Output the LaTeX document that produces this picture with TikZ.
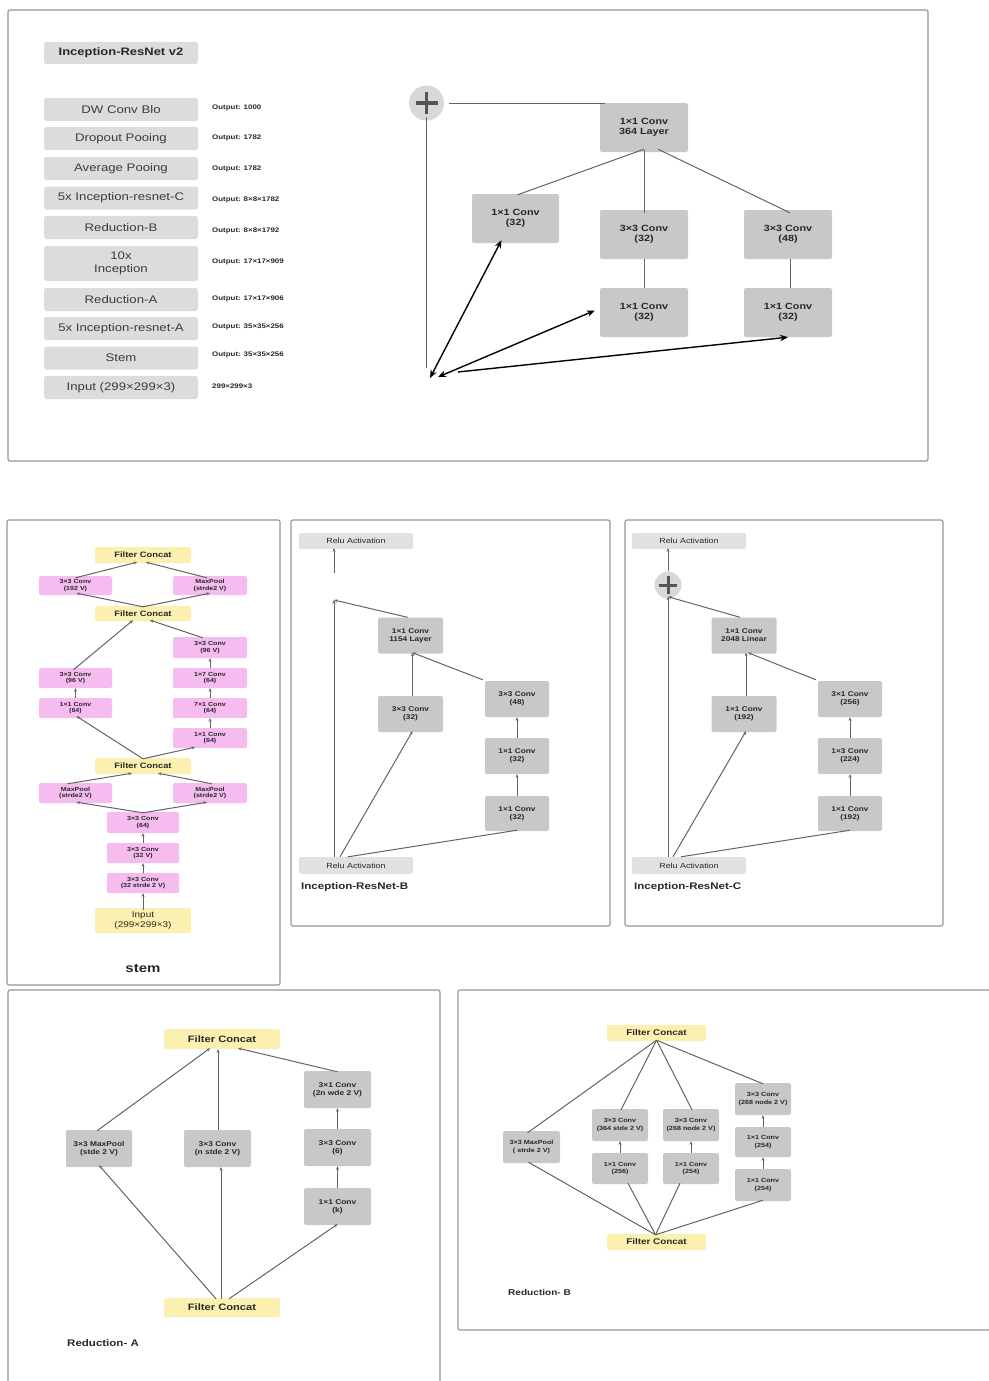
\documentclass[tikz,border=0pt]{standalone}
\usepackage{fontspec}
\setmainfont[FakeStretch=1.2]{Liberation Sans}
\usetikzlibrary{arrows.meta}

\definecolor{listfill}{RGB}{220,220,220}
\definecolor{boxfill}{RGB}{200,200,200}
\definecolor{relufill}{RGB}{225,225,225}
\definecolor{concatfill}{RGB}{251,240,176}
\definecolor{pinkfill}{RGB}{246,188,240}
\definecolor{panelline}{RGB}{150,150,150}
\definecolor{wirecol}{RGB}{100,100,100}
\definecolor{ink}{RGB}{40,40,40}
\definecolor{listink}{RGB}{60,60,60}
\definecolor{plusfill}{RGB}{216,216,216}
\definecolor{plusink}{RGB}{85,85,85}

\tikzset{
  panel/.style={draw=panelline, line width=1.1pt, rounded corners=2pt},
  listbox/.style={fill=listfill, rounded corners=2.5pt, minimum width=154, minimum height=23,
    inner sep=0, align=center, text=listink, font=\fontsize{11}{12.5}\selectfont},
  outlabel/.style={anchor=west, inner sep=0, text=ink, font=\fontsize{6.6}{8}\selectfont\bfseries},
  gbox/.style={fill=boxfill, rounded corners=2pt, inner sep=0, align=center, text=ink},
  pbox/.style={fill=pinkfill, rounded corners=1.5pt, inner sep=0, align=center, text=ink,
    minimum width=73, minimum height=20, font=\fontsize{5.9}{6.7}\selectfont\bfseries},
  ybox/.style={fill=concatfill, rounded corners=1.5pt, inner sep=0, align=center, text=ink},
  relu/.style={fill=relufill, rounded corners=2pt, inner sep=0, minimum width=114, minimum height=16,
    text=ink, font=\fontsize{7.4}{8}\selectfont},
  plus/.style={circle, fill=plusfill, inner sep=0},
  title/.style={anchor=west, inner sep=0, text=ink, font=\fontsize{9.6}{11}\selectfont\bfseries},
  wire/.style={draw=wirecol, line width=1pt},
  arr/.style={wire, -{Stealth[length=3.5pt,width=3pt]}},
  bigarr/.style={draw=black, line width=1.4pt, {Stealth[length=8pt,width=6.5pt]}-{Stealth[length=8pt,width=6.5pt]}},
  bigarrone/.style={draw=black, line width=1.4pt, -{Stealth[length=8pt,width=6.5pt]}},
  topbox/.style={gbox, minimum width=88, minimum height=49, font=\fontsize{9}{10.5}\selectfont\bfseries},
  midbox/.style={gbox, minimum width=65, minimum height=36, font=\fontsize{6.9}{8.2}\selectfont\bfseries},
  rabox/.style={gbox, minimum width=67, minimum height=37, font=\fontsize{7}{8.4}\selectfont\bfseries},
  rbbox/.style={gbox, minimum width=56, minimum height=32, font=\fontsize{6}{7.2}\selectfont\bfseries},
}

\begin{document}
\begin{tikzpicture}[x=1pt, y=-1pt]
\useasboundingbox (0,0) rectangle (988,1381);
\fill[white] (0,0) rectangle (988,1381);

% ---------- panel frames ----------
\draw[panel] (8,10) rectangle (928,461);
\draw[panel] (7,520) rectangle (280,985);
\draw[panel] (291,520) rectangle (610,926);
\draw[panel] (625,520) rectangle (943,926);
\draw[panel] (8,1385) -- (8,990) -- (440,990) -- (440,1385);
\draw[panel] (992,990) -- (458,990) -- (458,1330) -- (992,1330);

% ---------- overall network ----------
\node[listbox, minimum height=22, text=ink, font=\fontsize{10.8}{12}\selectfont\bfseries] (ttl) at (121,53) {Inception-ResNet v2};
\node[listbox] (l1) at (121,109.5) {DW Conv Blo};
\node[listbox] (l2) at (121,138.5) {Dropout Pooing};
\node[listbox] (l3) at (121,168.5) {Average Pooing};
\node[listbox] (l4) at (121,198) {5x Inception-resnet-C};
\node[listbox] (l5) at (121,227.5) {Reduction-B};
\node[listbox, minimum height=35, font=\fontsize{11}{12.5}\selectfont] (l6) at (121,263.5) {10x\\Inception};
\node[listbox] (l7) at (121,299.5) {Reduction-A};
\node[listbox] (l8) at (121,328.5) {5x Inception-resnet-A};
\node[listbox] (l9) at (121,358) {Stem};
\node[listbox] (l10) at (121,387.5) {Input (299×299×3)};

\node[outlabel] (o1) at (212,107.5) {Output: 1000};
\node[outlabel] (o2) at (212,138) {Output: 1782};
\node[outlabel] (o3) at (212,168.5) {Output: 1782};
\node[outlabel] (o4) at (212,199.5) {Output: 8×8×1782};
\node[outlabel] (o5) at (212,231) {Output: 8×8×1792};
\node[outlabel] (o6) at (212,262) {Output: 17×17×909};
\node[outlabel] (o7) at (212,299) {Output: 17×17×906};
\node[outlabel] (o8) at (212,327) {Output: 35×35×256};
\node[outlabel] (o9) at (212,355) {Output: 35×35×256};
\node[outlabel] (o10) at (212,386) {299×299×3};

% ---------- residual block (top right) ----------
\node[plus, minimum size=35] (pA) at (426.5,103) {};
\draw[plusink, line width=3.6pt] ([xshift=-11]pA.center) -- ([xshift=11]pA.center);
\draw[plusink, line width=3.6pt] ([yshift=-11]pA.center) -- ([yshift=11]pA.center);

\node[topbox] (c364) at (644,127.5) {1×1 Conv\\364 Layer};
\node[topbox, minimum width=87] (cA) at (515.5,218.5) {1×1 Conv\\(32)};
\node[topbox] (cB) at (644,234.5) {3×3 Conv\\(32)};
\node[topbox] (cC) at (788,234.5) {3×3 Conv\\(48)};
\node[topbox] (cD) at (644,312.5) {1×1 Conv\\(32)};
\node[topbox] (cE) at (788,312.5) {1×1 Conv\\(32)};

\draw[wire] ([xshift=5]pA.east) -- ([xshift=5]pA.east -| c364.west);
\draw[wire] ([yshift=3]c364.south) -- ([xshift=2,yshift=-1]cA.north);
\draw[wire] ([yshift=2]c364.south) -- ([yshift=-3]cB.north);
\draw[wire] ([xshift=14,yshift=3]c364.south) -- ([xshift=2,yshift=-3]cC.north);
\draw[wire] (cB.south) -- (cD.north);
\draw[wire] ([xshift=2]cC.south) -- ([xshift=2]cE.north);

\coordinate (hubL) at (426.5,368);
\coordinate (h1) at (430,378);
\coordinate (h2) at (438,377);
\coordinate (h3) at (458,372);
\draw[wire] ([yshift=4]pA.south) -- (hubL);
\draw[bigarr] (h1) -- ([xshift=-14,yshift=3]cA.south);
\draw[bigarr] (h2) -- ([xshift=-5,yshift=2]cD.west);
\draw[bigarrone] (h3) -- (cE.south);

% ---------- stem ----------
\node[ybox, minimum width=96, minimum height=16, font=\fontsize{7.8}{9}\selectfont\bfseries] (sfc1) at (143,555) {Filter Concat};
\node[pbox, minimum height=19] (s192) at (75.5,585.5) {3×3 Conv\\(192 V)};
\node[pbox, minimum height=19, minimum width=74] (smp1) at (210,585.5) {MaxPool\\(strde2 V)};
\node[ybox, minimum width=96, minimum height=15, font=\fontsize{7.8}{9}\selectfont\bfseries] (sfc2) at (143,613.5) {Filter Concat};
\node[pbox, minimum width=74, minimum height=21] (s96r) at (210,647.5) {3×3 Conv\\(96 V)};
\node[pbox] (s96l) at (75.5,678) {3×3 Conv\\(96 V)};
\node[pbox] (s64l) at (75.5,708) {1×1 Conv\\(64)};
\node[pbox, minimum width=74] (s17) at (210,678) {1×7 Conv\\(64)};
\node[pbox, minimum width=74] (s71) at (210,708) {7×1 Conv\\(64)};
\node[pbox, minimum width=74] (s11r) at (210,738) {1×1 Conv\\(64)};
\node[ybox, minimum width=96, minimum height=16, font=\fontsize{7.8}{9}\selectfont\bfseries] (sfc3) at (143,766) {Filter Concat};
\node[pbox] (smp2) at (75.5,793) {MaxPool\\(strde2 V)};
\node[pbox, minimum width=74] (smp3) at (210,793) {MaxPool\\(strde2 V)};
\node[pbox, minimum width=72, minimum height=21] (s64) at (143,822.5) {3×3 Conv\\(64)};
\node[pbox, minimum width=72] (s32) at (143,853) {3×3 Conv\\(32 V)};
\node[pbox, minimum width=72] (s32s) at (143,883) {3×3 Conv\\(32 strde 2 V)};
\node[ybox, minimum width=96, minimum height=25, font=\fontsize{8.3}{9.6}\selectfont] (sin) at (143,920.5) {Input\\(299×299×3)};
\node[inner sep=0, text=ink, font=\fontsize{12.5}{14}\selectfont\bfseries] (stemlbl) at (143,968) {stem};

\draw[arr] ([yshift=-2]s192.north) -- ([xshift=-6,yshift=1]sfc1.south);
\draw[arr] ([xshift=-3,yshift=-2]smp1.north) -- ([xshift=3,yshift=1]sfc1.south);
\draw[arr] ([yshift=-1]sfc2.north) -- ([xshift=1,yshift=2]s192.south);
\draw[arr] ([yshift=-1]sfc2.north) -- ([yshift=2]smp1.south);
\draw[arr] ([xshift=-2,yshift=-2]s96l.north) -- ([xshift=-10,yshift=1]sfc2.south);
\draw[arr] ([xshift=-7,yshift=-1]s96r.north) -- ([xshift=7,yshift=1]sfc2.south);
\draw[arr] (s64l.north) -- (s96l.south);
\draw[arr] (s11r.north) -- (s71.south);
\draw[arr] (s71.north) -- (s17.south);
\draw[arr] (s17.north) -- (s96r.south);
\draw[arr] ([yshift=-1]sfc3.north) -- ([xshift=1,yshift=2]s64l.south);
\draw[arr] ([yshift=-1]sfc3.north) -- ([xshift=-15,yshift=1]s11r.south);
\draw[arr] ([xshift=-8,yshift=-1]smp2.north) -- ([xshift=-11,yshift=1]sfc3.south);
\draw[arr] ([xshift=2,yshift=-1]smp3.north) -- ([xshift=15,yshift=1]sfc3.south);
\draw[arr] ([yshift=-1]s64.north) -- ([xshift=1,yshift=1]smp2.south);
\draw[arr] ([yshift=-1]s64.north) -- ([xshift=-3,yshift=1]smp3.south);
\draw[arr] (s32.north) -- (s64.south);
\draw[arr] (s32s.north) -- (s32.south);
\draw[arr] ([yshift=-2]sin.north) -- (s32s.south);

% ---------- Inception-ResNet-B ----------
\node[relu] (bReluT) at (356,541) {Relu Activation};
\node[midbox] (b1154) at (410.5,635.5) {1×1 Conv\\1154 Layer};
\node[midbox] (b32) at (410.5,714) {3×3 Conv\\(32)};
\node[midbox, minimum width=64] (b48) at (517,699) {3×3 Conv\\(48)};
\node[midbox, minimum width=64] (b32a) at (517,756) {1×1 Conv\\(32)};
\node[midbox, minimum width=64, minimum height=35] (b32b) at (517,813.5) {1×1 Conv\\(32)};
\node[relu, minimum height=17] (bReluB) at (356,865.5) {Relu Activation};
\node[title] (bTitle) at (301,887) {Inception-ResNet-B};

\coordinate (bfree) at (334,573);
\coordinate (bj) at (334,600);
\draw[arr] (bfree) -- ([yshift=1]bReluT.south -| bfree);
\draw[arr] (bReluB.north -| bj) -- (bj);
\draw[arr] ([xshift=-3]b1154.north) -- (bj);
\draw[arr] ([xshift=2]b32.north) -- ([xshift=2,yshift=1]b1154.south);
\draw[arr] ([xshift=-2,yshift=1]b48.north west) -- ([xshift=2,yshift=1]b1154.south);
\draw[arr] (b32b.north) -- (b32a.south);
\draw[arr] (b32a.north) -- (b48.south);
\draw[arr] ([xshift=-16]bReluB.north) -- ([xshift=2,yshift=1]b32.south);
\draw[wire] ([xshift=-8]bReluB.north) -- ([yshift=1]b32b.south);

% ---------- Inception-ResNet-C ----------
\node[relu] (cReluT) at (689,541) {Relu Activation};
\node[plus, minimum size=27] (cPlus) at (668,585) {};
\draw[plusink, line width=3pt] ([xshift=-9]cPlus.center) -- ([xshift=9]cPlus.center);
\draw[plusink, line width=3pt] ([yshift=-9]cPlus.center) -- ([yshift=9]cPlus.center);
\node[midbox] (c2048) at (744,635.5) {1×1 Conv\\2048 Linear};
\node[midbox] (c192) at (744,714) {1×1 Conv\\(192)};
\node[midbox, minimum width=64] (c256) at (850,699) {3×1 Conv\\(256)};
\node[midbox, minimum width=64] (c224) at (850,756) {1×3 Conv\\(224)};
\node[midbox, minimum width=64, minimum height=35] (c192b) at (850,813.5) {1×1 Conv\\(192)};
\node[relu, minimum height=17] (cReluB) at (689,865.5) {Relu Activation};
\node[title] (cTitle) at (634,887) {Inception-ResNet-C};

\draw[arr] (cPlus.north) -- ([yshift=1]cReluT.south -| cPlus);
\draw[arr] (cReluB.north -| cPlus) -- ([yshift=2]cPlus.south);
\draw[arr] ([xshift=-4]c2048.north) -- ([yshift=2]cPlus.south);
\draw[arr] ([xshift=2]c192.north) -- ([xshift=2,yshift=1]c2048.south);
\draw[arr] ([xshift=-2,yshift=1]c256.north west) -- ([xshift=4,yshift=1]c2048.south);
\draw[arr] (c192b.north) -- (c224.south);
\draw[arr] (c224.north) -- (c256.south);
\draw[arr] ([xshift=-16]cReluB.north) -- ([xshift=2,yshift=1]c192.south);
\draw[wire] ([xshift=-8]cReluB.north) -- ([yshift=1]c192b.south);

% ---------- Reduction-A ----------
\node[ybox, minimum width=116, minimum height=20, font=\fontsize{9.3}{11}\selectfont\bfseries] (rfcT) at (222,1039) {Filter Concat};
\node[rabox, minimum width=66] (rmp) at (99,1148.5) {3×3 MaxPool\\(stde 2 V)};
\node[rabox] (rconv) at (217.5,1148.5) {3×3 Conv\\(n stde 2 V)};
\node[rabox] (r31) at (337.5,1089.5) {3×1 Conv\\(2n wde 2 V)};
\node[rabox] (r33) at (337.5,1147.5) {3×3 Conv\\(6)};
\node[rabox] (r11) at (337.5,1206.5) {1×1 Conv\\(k)};
\node[ybox, minimum width=116, minimum height=19, font=\fontsize{9.3}{11}\selectfont\bfseries] (rfcB) at (222,1307.5) {Filter Concat};
\node[title] (raTitle) at (67,1343) {Reduction- A};

\draw[arr] ([xshift=-2,yshift=-1]rmp.north) -- ([xshift=-12,yshift=1]rfcT.south);
\draw[arr] ([xshift=0.5]rconv.north) -- ([xshift=0.5]rconv.north |- rfcT.south);
\draw[arr] ([yshift=-1]r31.north) -- ([xshift=16,yshift=1]rfcT.south);
\draw[arr] (r11.north) -- (r33.south);
\draw[arr] (r33.north) -- (r31.south);
\draw[arr] ([xshift=-6,yshift=-1]rfcB.north) -- ([yshift=2]rmp.south);
\draw[arr] ([xshift=-1,yshift=-1]rfcB.north) -- ([xshift=3.5]rconv.south);
\draw[arr] ([xshift=7,yshift=-1]rfcB.north) -- ([yshift=1]r11.south);

% ---------- Reduction-B ----------
\node[ybox, minimum width=99, minimum height=16, font=\fontsize{8.2}{9.5}\selectfont\bfseries] (qfcT) at (656.5,1033) {Filter Concat};
\node[ybox, minimum width=99, minimum height=16, font=\fontsize{8.2}{9.5}\selectfont\bfseries] (qfcB) at (656.5,1242) {Filter Concat};
\node[rbbox, minimum width=57] (qmp) at (531.5,1147) {3×3 MaxPool\\( strde 2 V)};
\node[rbbox] (q364) at (620,1125) {3×3 Conv\\(364 stde 2 V)};
\node[rbbox, minimum height=31] (q256) at (620,1168.5) {1×1 Conv\\(256)};
\node[rbbox] (q268) at (691,1125) {3×3 Conv\\(268 node 2 V)};
\node[rbbox, minimum height=31] (q254) at (691,1168.5) {1×1 Conv\\(254)};
\node[rbbox] (qr268) at (763,1099) {3×3 Conv\\(268 node 2 V)};
\node[rbbox, minimum height=30] (qr254a) at (763,1142) {1×1 Conv\\(254)};
\node[rbbox] (qr254b) at (763,1185) {1×1 Conv\\(254)};
\node[title, font=\fontsize{8.4}{10}\selectfont\bfseries] (rbTitle) at (508,1292) {Reduction- B};

\draw[wire] ([yshift=1]qfcT.south) -- ([xshift=-4,yshift=-2]qmp.north);
\draw[wire] ([yshift=1]qfcT.south) -- ([xshift=1,yshift=-1]q364.north);
\draw[wire] ([yshift=1]qfcT.south) -- ([xshift=1,yshift=-1]q268.north);
\draw[wire] ([yshift=1]qfcT.south) -- ([yshift=-1]qr268.north);
\draw[wire] ([xshift=-1,yshift=-1]qfcB.north) -- ([xshift=-3,yshift=1]qmp.south);
\draw[wire] ([xshift=-1,yshift=-1]qfcB.north) -- ([xshift=8,yshift=1]q256.south);
\draw[wire] ([xshift=-1,yshift=-1]qfcB.north) -- ([xshift=-11,yshift=1]q254.south);
\draw[wire] ([xshift=-1,yshift=-1]qfcB.north) -- ([yshift=1]qr254b.south);
\draw[arr] (q256.north) -- (q364.south);
\draw[arr] (q254.north) -- (q268.south);
\draw[arr] (qr254b.north) -- (qr254a.south);
\draw[arr] (qr254a.north) -- (qr268.south);
\end{tikzpicture}
\end{document}
